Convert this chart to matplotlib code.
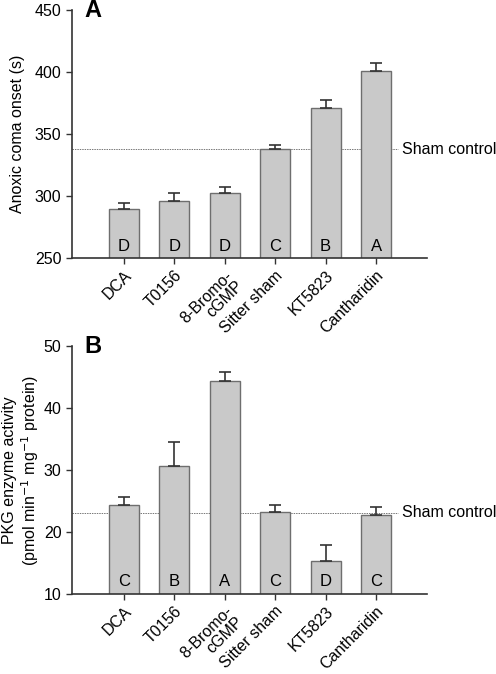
import matplotlib
matplotlib.use("Agg")
import matplotlib.pyplot as plt
import matplotlib.transforms as mtransforms
import numpy as np

plt.rcParams['font.family'] = ['Liberation Sans', 'DejaVu Sans']

categories = ['DCA', 'T0156', '8-Bromo-\ncGMP', 'Sitter sham', 'KT5823', 'Cantharidin']

coma_mean = [289.8, 296.0, 302.2, 337.9, 371.2, 400.6]
coma_err = [4.8, 6.7, 5.3, 3.0, 6.2, 6.7]
coma_letters = ['D', 'D', 'D', 'C', 'B', 'A']
coma_sham = 338.0

pkg_mean = [24.35, 30.7, 44.4, 23.2, 15.3, 22.7]
pkg_err = [1.25, 3.8, 1.5, 1.2, 2.6, 1.4]
pkg_letters = ['C', 'B', 'A', 'C', 'D', 'C']
pkg_sham = 23.1


def draw_panel(ax, means, errs, letters, sham, ylim, yticks, ylabel, tag):
    x = np.arange(len(categories))
    ax.bar(x, means, width=0.6, color='#c9c9c9', edgecolor='#6e6e6e', linewidth=1.0, zorder=2)
    ax.errorbar(x, means, yerr=[np.zeros(len(errs)), errs], fmt='none',
                ecolor='#333333', elinewidth=1.2, capsize=4, capthick=1.2, zorder=3)
    ax.plot([-1.03, 5.44], [sham, sham], ls=(0, (1.5, 1.0)), color='#777777',
            lw=0.7, clip_on=False, zorder=1)
    ax.text(5.51, sham, 'Sham control', va='center', ha='left', fontsize=11.5, clip_on=False)

    trans = mtransforms.blended_transform_factory(ax.transData, ax.transAxes)
    for xi, letter in zip(x, letters):
        ax.text(xi, 0.018, letter, transform=trans, ha='center', va='bottom', fontsize=12, zorder=4)

    ax.set_xlim(-1.03, 6.01)
    ax.set_ylim(*ylim)
    ax.set_yticks(yticks)
    ax.set_xticks(x)
    ax.set_xticklabels(categories, rotation=45, ha='right', rotation_mode='anchor',
                       fontsize=11, linespacing=0.95)
    ax.spines['top'].set_visible(False)
    ax.spines['right'].set_visible(False)
    for s in ('left', 'bottom'):
        ax.spines[s].set_linewidth(1.2)
        ax.spines[s].set_color('#333333')
    ax.tick_params(axis='both', direction='out', length=4, width=1.0, labelsize=11.5, colors='#333333',
                   labelcolor='black')
    ax.tick_params(axis='x', pad=3)
    ax.set_ylabel(ylabel, fontsize=11.5, linespacing=1.15)
    ax.text(0.035, 1.0, tag, transform=ax.transAxes, fontsize=17, fontweight='bold',
            ha='left', va='center')


fig = plt.figure(figsize=(4.96, 6.74), dpi=100)
ax1 = fig.add_axes([0.145, 0.617, 0.716, 0.368])
ax2 = fig.add_axes([0.145, 0.119, 0.716, 0.367])

draw_panel(ax1, coma_mean, coma_err, coma_letters, coma_sham, (250, 450),
           [250, 300, 350, 400, 450], 'Anoxic coma onset (s)', 'A')
draw_panel(ax2, pkg_mean, pkg_err, pkg_letters, pkg_sham, (10, 50),
           [10, 20, 30, 40, 50],
           'PKG enzyme activity\n(pmol min$^{-1}$ mg$^{-1}$ protein)', 'B')
ax1.yaxis.set_label_coords(-0.152, 0.5)
ax2.yaxis.set_label_coords(-0.142, 0.5)
ax1.yaxis.label.set_va('center')
ax2.yaxis.label.set_va('center')

fig.savefig('out.png', dpi=100)
